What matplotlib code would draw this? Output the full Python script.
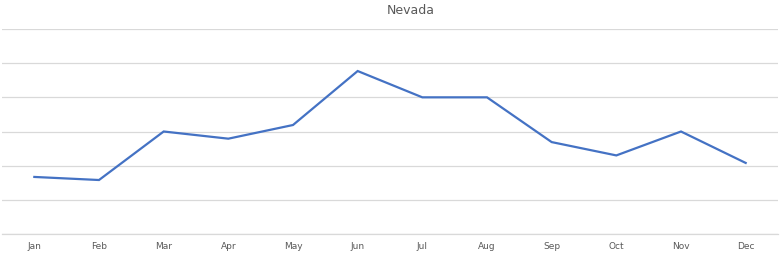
import matplotlib
matplotlib.use("Agg")
import matplotlib.pyplot as plt

months = ["Jan", "Feb", "Mar", "Apr", "May", "Jun",
          "Jul", "Aug", "Sep", "Oct", "Nov", "Dec"]
values = [1.67, 1.58, 3.0, 2.79, 3.19, 4.77, 4.0, 4.0, 2.69, 2.30, 3.0, 2.08]
title = "Nevada"

fig = plt.figure(figsize=(7.81, 2.56), dpi=100)
ax = fig.add_axes([2 / 781, 1 - 234 / 256, 776 / 781, 205 / 256])

ax.plot(range(len(months)), values, color="#4472C4", lw=1.6,
        solid_joinstyle="miter", zorder=3)

ax.set_xlim(-0.5, len(months) - 0.5)
ax.set_ylim(0, 6)
ax.set_yticks(range(0, 7))
ax.set_yticklabels([])
ax.tick_params(axis="y", length=0)
ax.grid(axis="y", color="#D9D9D9", lw=0.9)
ax.set_xticks(range(len(months)))
ax.set_xticklabels(months, fontsize=6.5, color="#595959")
ax.tick_params(axis="x", length=0, pad=5.5)
for s in ["top", "left", "right"]:
    ax.spines[s].set_visible(False)
ax.spines["bottom"].set_color("#D9D9D9")
ax.spines["bottom"].set_linewidth(0.9)

fig.text(411 / 781, 1 - 11 / 256, title, ha="center", va="center",
         fontsize=9, color="#595959")

fig.savefig("out.png", dpi=100)
